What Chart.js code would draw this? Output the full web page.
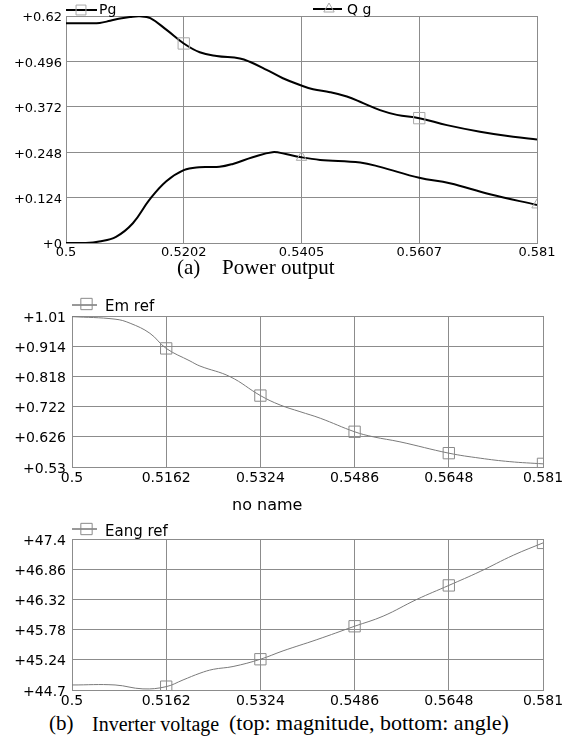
<!DOCTYPE html>
<html>
<head>
<meta charset="utf-8">
<script src="https://cdn.jsdelivr.net/npm/chart.js@4/dist/chart.umd.min.js"></script>
<style>
  html, body { margin: 0; padding: 0; background: #fff; }
  #page { position: relative; width: 570px; height: 745px; overflow: hidden; background: #fff; }
  #page canvas { position: absolute; left: 0; }
  .cap { position: absolute; white-space: pre; font-family: "Liberation Serif", "Times New Roman", serif;
         font-size: 21px; line-height: 21px; color: #000; }
  .cap span { position: absolute; top: 0; }
  .sub { position: absolute; white-space: pre; font-family: "DejaVu Sans", sans-serif;
         font-size: 16px; line-height: 16px; color: #000; }
</style>
</head>
<body>
<div id="page">
  <canvas id="c1" width="570" height="262" style="top:0px"></canvas>
  <canvas id="c2" width="570" height="200" style="top:290px"></canvas>
  <canvas id="c3" width="570" height="200" style="top:510px"></canvas>
  <div class="cap" style="left:0;top:257px">
    <span style="left:177px">(a)</span><span style="left:222px">Power output</span>
  </div>
  <div class="sub" style="left:232px;top:497px">no name</div>
  <div class="cap" style="left:0;top:713px">
    <span style="left:49px">(b)</span><span style="left:92px;font-size:20px;top:1px">Inverter voltage</span><span style="left:229px;font-size:22px;top:-1px">(top: magnitude, bottom: angle)</span>
  </div>
</div>
<script>
// ---- (a) power output ----
const X1_TICKS  = [0.5, 0.52025, 0.5405, 0.56075, 0.581];
const X1_LABELS = ['0.5', '0.5202', '0.5405', '0.5607', '0.581'];
const Y1_TICKS  = [0, 0.124, 0.248, 0.372, 0.496, 0.62];
const Y1_LABELS = ['+0', '+0.124', '+0.248', '+0.372', '+0.496', '+0.62'];

const pgT = [0.5, 0.5041, 0.5058, 0.5076, 0.5093, 0.5110, 0.5127, 0.5145, 0.5173, 0.52025,
             0.5230, 0.5259, 0.5299, 0.5316, 0.5345, 0.5373, 0.5405, 0.5425, 0.5454, 0.5483,
             0.5511, 0.5540, 0.5569, 0.56075, 0.5655, 0.5712, 0.5769, 0.581];
const pgV = [0.600, 0.600, 0.601, 0.607, 0.613, 0.617, 0.619, 0.614, 0.582, 0.545,
             0.521, 0.511, 0.504, 0.495, 0.473, 0.450, 0.430, 0.420, 0.412, 0.400,
             0.382, 0.363, 0.350, 0.341, 0.322, 0.304, 0.290, 0.283];
const pgMarks = [0.52025, 0.56075];

const qgT = [0.5, 0.5034, 0.5057, 0.5086, 0.5115, 0.5143, 0.5172, 0.52025, 0.5229, 0.5264,
             0.5287, 0.5321, 0.5355, 0.5378, 0.5405, 0.5437, 0.5506, 0.5540, 0.56075, 0.5660,
             0.5729, 0.581];
const qgV = [0.000, 0.000, 0.004, 0.017, 0.054, 0.117, 0.168, 0.199, 0.207, 0.208,
             0.216, 0.234, 0.248, 0.243, 0.234, 0.227, 0.220, 0.208, 0.178, 0.163,
             0.133, 0.104];
const qgMarks = [0.5405, 0.581];

// ---- (b) inverter voltage: magnitude ----
const X2_TICKS  = [0.5, 0.5162, 0.5324, 0.5486, 0.5648, 0.581];
const X2_LABELS = ['0.5', '0.5162', '0.5324', '0.5486', '0.5648', '0.581'];
const Y2_TICKS  = [0.53, 0.626, 0.722, 0.818, 0.914, 1.01];
const Y2_LABELS = ['+0.53', '+0.626', '+0.722', '+0.818', '+0.914', '+1.01'];

const emT = [0.5, 0.5074, 0.5100, 0.5134, 0.5162, 0.5203, 0.5220, 0.5272, 0.5324, 0.5358,
             0.5392, 0.5427, 0.5486, 0.5518, 0.5564, 0.5648, 0.5702, 0.5753, 0.581];
const emV = [1.008, 1.000, 0.987, 0.955, 0.907, 0.867, 0.851, 0.817, 0.757, 0.727,
             0.706, 0.685, 0.642, 0.626, 0.610, 0.574, 0.558, 0.547, 0.540];
const emMarks = [0.5162, 0.5324, 0.5486, 0.5648, 0.581];

// ---- (b) inverter voltage: angle ----
const Y3_TICKS  = [44.7, 45.24, 45.78, 46.32, 46.86, 47.4];
const Y3_LABELS = ['+44.7', '+45.24', '+45.78', '+46.32', '+46.86', '+47.4'];

const eaT = [0.5, 0.5074, 0.5122, 0.5162, 0.5191, 0.5220, 0.5243, 0.5277, 0.5324, 0.5363,
             0.5421, 0.5486, 0.5535, 0.5593, 0.5648, 0.5702, 0.5759, 0.581];
const eaV = [44.79, 44.79, 44.72, 44.76, 44.88, 45.00, 45.07, 45.12, 45.25, 45.40,
             45.60, 45.84, 46.02, 46.32, 46.57, 46.82, 47.11, 47.33];
const eaMarks = [0.5162, 0.5324, 0.5486, 0.5648, 0.581];

const GRID = '#8c8c8c';
const FONT = 'DejaVu Sans';

function pts(xs, ys) { return xs.map((x, i) => ({ x: x, y: ys[i] })); }

function series(label, xs, ys, marks, o) {
  return {
    label: label,
    data: pts(xs, ys),
    borderColor: o.line,
    borderWidth: o.width,
    tension: 0.4,
    pointStyle: o.style,
    pointRadius: c => (c.raw && marks.includes(c.raw.x)) ? o.r : 0,
    pointHoverRadius: 0,
    pointBorderColor: o.mark,
    pointBorderWidth: 1,
    pointBackgroundColor: 'rgba(0,0,0,0)',
    fill: false,
    keyLine: o.key
  };
}

function axes(xT, xL, yT, yL, yWidth, xHeight, size, xPad, yPad) {
  const font = { family: FONT, size: size };
  const grid = { color: GRID, lineWidth: 1, drawTicks: false };
  return {
    x: {
      type: 'linear', min: xT[0], max: xT[xT.length - 1],
      afterBuildTicks: s => { s.ticks = xT.map(v => ({ value: v })); },
      afterFit: s => { s.height = xHeight; },
      ticks: { font: font, color: '#000', padding: xPad, maxRotation: 0, autoSkip: false,
               callback: (v, i) => xL[i] },
      grid: grid, border: { color: GRID }
    },
    y: {
      type: 'linear', min: yT[0], max: yT[yT.length - 1],
      afterBuildTicks: s => { s.ticks = yT.map(v => ({ value: v })); },
      afterFit: s => { s.width = yWidth; },
      ticks: { font: font, color: '#000', padding: yPad, labelOffset: 2, autoSkip: false,
               callback: (v, i) => yL[i] },
      grid: grid, border: { color: GRID }
    }
  };
}

// key drawn above each plot: short line, marker, series name
const seriesKey = {
  id: 'seriesKey',
  afterDraw(chart, args, opts) {
    const ctx = chart.ctx;
    (opts.items || []).forEach((it, i) => {
      const ds = chart.data.datasets[i];
      ctx.save();
      ctx.strokeStyle = ds.keyLine || ds.borderColor;
      ctx.lineWidth = ds.borderWidth;
      ctx.beginPath();
      ctx.moveTo(it.x0, it.y);
      ctx.lineTo(it.x1, it.y);
      ctx.stroke();
      ctx.strokeStyle = ds.pointBorderColor;
      ctx.fillStyle = 'rgba(0,0,0,0)';
      ctx.lineWidth = 1;
      Chart.helpers.drawPoint(ctx, { pointStyle: ds.pointStyle, radius: it.r, borderWidth: 1, rotation: 0 }, it.mx, it.my);
      ctx.fillStyle = '#000';
      ctx.font = opts.size + 'px "' + FONT + '"';
      ctx.textAlign = 'left';
      ctx.textBaseline = 'alphabetic';
      ctx.fillText(ds.label, it.tx, it.ty);
      ctx.restore();
    });
  }
};

function make(id, datasets, scales, pad, key) {
  return new Chart(document.getElementById(id), {
    type: 'line',
    data: { datasets: datasets },
    options: {
      responsive: false,
      animation: false,
      events: [],
      layout: { padding: pad },
      scales: scales,
      plugins: { legend: { display: false }, tooltip: { enabled: false }, seriesKey: key }
    },
    plugins: [seriesKey]
  });
}

make('c1', [
    series('Pg', pgT, pgV, pgMarks, { line: '#000', width: 2, style: 'rect', r: 8, mark: '#a8a8a8' }),
    series('Q g', qgT, qgV, qgMarks, { line: '#000', width: 2, style: 'triangle', r: 6, mark: '#a8a8a8' })
  ],
  axes(X1_TICKS, X1_LABELS, Y1_TICKS, Y1_LABELS, 66, 19, 13, 2, 4),
  { top: 16, right: 33, left: 0, bottom: 0 },
  { size: 14, items: [
    { x0: 66, x1: 97, y: 10, mx: 81, my: 10, r: 7, tx: 99, ty: 14 },
    { x0: 313, x1: 342, y: 9, mx: 329, my: 9, r: 6, tx: 347, ty: 14 }
  ] });

make('c2', [
    series('Em ref', emT, emV, emMarks, { line: '#7a7a7a', width: 1, style: 'rect', r: 8, mark: '#8a8a8a', key: '#333' })
  ],
  axes(X2_TICKS, X2_LABELS, Y2_TICKS, Y2_LABELS, 72, 23, 14, 3, 6),
  { top: 26, right: 27, left: 0, bottom: 0 },
  { size: 15, items: [
    { x0: 72, x1: 97, y: 15, mx: 86.5, my: 14, r: 8, tx: 105, ty: 21 }
  ] });

make('c3', [
    series('Eang ref', eaT, eaV, eaMarks, { line: '#7a7a7a', width: 1, style: 'rect', r: 8, mark: '#8a8a8a', key: '#333' })
  ],
  axes(X2_TICKS, X2_LABELS, Y3_TICKS, Y3_LABELS, 72, 20, 14, 3, 6),
  { top: 29, right: 27, left: 0, bottom: 0 },
  { size: 15, items: [
    { x0: 72, x1: 97, y: 19, mx: 86.5, my: 19, r: 8, tx: 105, ty: 26 }
  ] });
</script>
</body>
</html>
